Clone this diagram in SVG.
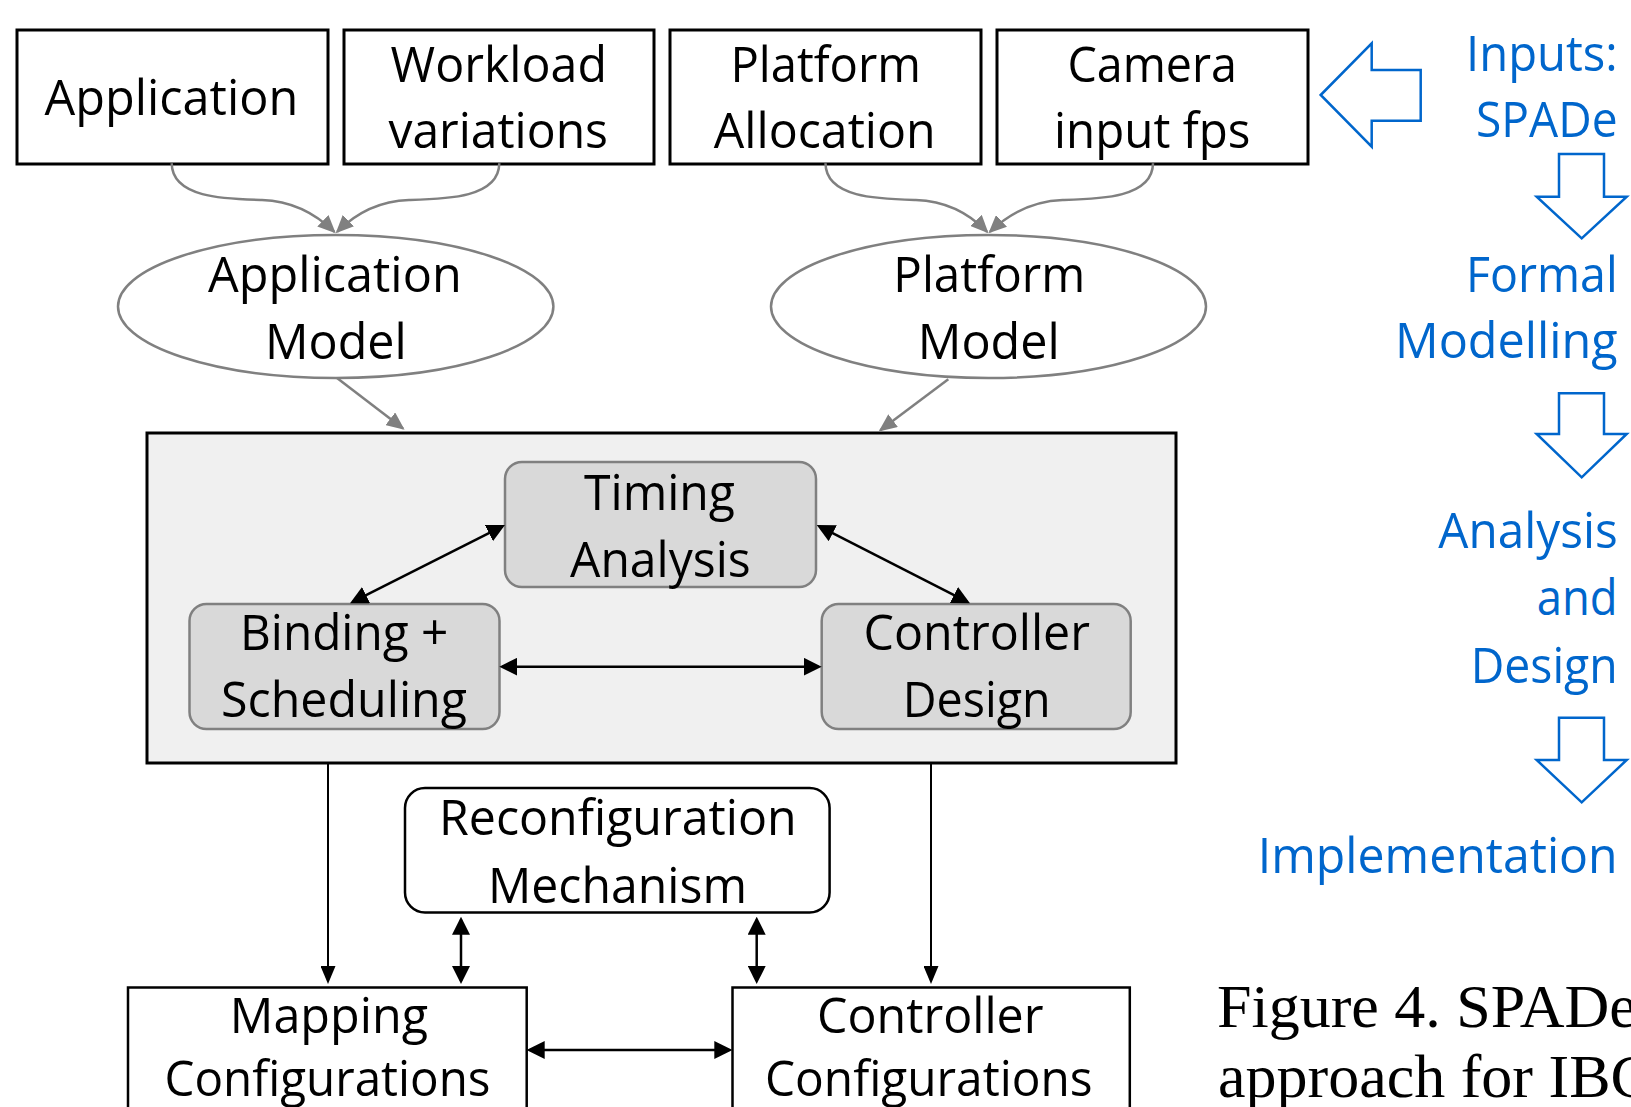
<svg xmlns="http://www.w3.org/2000/svg" width="1631" height="1107" viewBox="0 0 1631 1107">
<defs>
<style>
.box{fill:#fff;stroke:#000;stroke-width:3}
.ell{fill:#fff;stroke:#808080;stroke-width:2.5}
.inner{fill:#d9d9d9;stroke:#808080;stroke-width:2.5}
.outer{fill:#f0f0f0;stroke:#000;stroke-width:3}
.t{font-family:"Open Sans","Liberation Sans",sans-serif;font-size:50px;fill:#000}
.b{fill:#0066cc}
.barrow{fill:#fff;stroke:#0066cc;stroke-width:2.5;stroke-linejoin:miter}
.gray{fill:none;stroke:#808080;stroke-width:2.5}
.blk{fill:none;stroke:#000;stroke-width:2.5}
.thin{fill:none;stroke:#000;stroke-width:2}
.cap{font-family:"Liberation Serif","Times New Roman",serif;font-size:62px;fill:#000}
</style>
<marker id="ag" markerUnits="userSpaceOnUse" viewBox="0 0 18 16" markerWidth="18" markerHeight="16" refX="16" refY="8" orient="auto"><path d="M0,0 L18,8 L0,16 z" fill="#808080"/></marker>
<marker id="ab" markerUnits="userSpaceOnUse" viewBox="0 0 18 18" markerWidth="18" markerHeight="18" refX="15" refY="9" orient="auto-start-reverse"><path d="M0,0 L18,9 L0,18 z" fill="#000"/></marker>
<marker id="as" markerUnits="userSpaceOnUse" viewBox="0 0 18 15" markerWidth="18" markerHeight="15" refX="15" refY="7.5" orient="auto"><path d="M0,0 L18,7.5 L0,15 z" fill="#000"/></marker>
</defs>
<rect width="1631" height="1107" fill="#fff"/>

<g id="application">
<rect class="box" x="17" y="30" width="311" height="134"/>
<text class="t" x="44.6" y="115" textLength="253.6" lengthAdjust="spacingAndGlyphs">Application</text>
</g>
<g id="workload">
<rect class="box" x="344" y="30" width="310" height="134"/>
<text class="t" x="390.6" y="81.7" textLength="216.4" lengthAdjust="spacingAndGlyphs">Workload</text>
<text class="t" x="388.4" y="148.3" textLength="219.6" lengthAdjust="spacingAndGlyphs">variations</text>
</g>
<g id="platform-allocation">
<rect class="box" x="670" y="30" width="311" height="134"/>
<text class="t" x="730.4" y="81.7" textLength="190.6" lengthAdjust="spacingAndGlyphs">Platform</text>
<text class="t" x="713.8" y="148.3" textLength="221.9" lengthAdjust="spacingAndGlyphs">Allocation</text>
</g>
<g id="camera">
<rect class="box" x="997" y="30" width="311" height="134"/>
<text class="t" x="1067.4" y="81.7" textLength="169.6" lengthAdjust="spacingAndGlyphs">Camera</text>
<text class="t" x="1054" y="148.3" textLength="196.4" lengthAdjust="spacingAndGlyphs">input fps</text>
</g>

<g id="application-model">
<ellipse class="ell" cx="335.7" cy="306.5" rx="217.7" ry="71.5"/>
<text class="t" x="208" y="291.7" textLength="253.7" lengthAdjust="spacingAndGlyphs">Application</text>
<text class="t" x="265" y="358.5" textLength="141.7" lengthAdjust="spacingAndGlyphs">Model</text>
</g>
<g id="platform-model">
<ellipse class="ell" cx="988.5" cy="306.5" rx="217.5" ry="71.5"/>
<text class="t" x="893.3" y="291.7" textLength="191.9" lengthAdjust="spacingAndGlyphs">Platform</text>
<text class="t" x="917.8" y="358.8" textLength="142" lengthAdjust="spacingAndGlyphs">Model</text>
</g>

<g id="design-space">
<rect class="outer" x="147" y="433" width="1029" height="330"/>
</g>
<g id="timing-analysis">
<rect class="inner" x="505" y="462" width="311" height="125" rx="17"/>
<text class="t" x="584" y="510" textLength="151" lengthAdjust="spacingAndGlyphs">Timing</text>
<text class="t" x="570" y="576.7" textLength="180.7" lengthAdjust="spacingAndGlyphs">Analysis</text>
</g>
<g id="binding-scheduling">
<rect class="inner" x="189.5" y="604" width="310" height="125" rx="17"/>
<text class="t" x="240" y="650" textLength="208.3" lengthAdjust="spacingAndGlyphs">Binding +</text>
<text class="t" x="221" y="717" textLength="246" lengthAdjust="spacingAndGlyphs">Scheduling</text>
</g>
<g id="controller-design">
<rect class="inner" x="821.7" y="604" width="309" height="125" rx="17"/>
<text class="t" x="863.5" y="650" textLength="226.5" lengthAdjust="spacingAndGlyphs">Controller</text>
<text class="t" x="902.7" y="717" textLength="148" lengthAdjust="spacingAndGlyphs">Design</text>
</g>

<g id="reconfiguration">
<rect class="box" x="405" y="788" width="424.6" height="124.5" rx="20" style="stroke-width:2.5"/>
<text class="t" x="439" y="835" textLength="357.6" lengthAdjust="spacingAndGlyphs">Reconfiguration</text>
<text class="t" x="488" y="902.5" textLength="259" lengthAdjust="spacingAndGlyphs">Mechanism</text>
</g>
<g id="mapping-configurations">
<rect class="box" x="128" y="987.5" width="398.7" height="160" style="stroke-width:2.5"/>
<text class="t" x="229.8" y="1032.5" textLength="198.2" lengthAdjust="spacingAndGlyphs">Mapping</text>
<text class="t" x="164.5" y="1096" textLength="326" lengthAdjust="spacingAndGlyphs">Configurations</text>
</g>
<g id="controller-configurations">
<rect class="box" x="732.5" y="987.5" width="397.3" height="160" style="stroke-width:2.5"/>
<text class="t" x="817" y="1032.5" textLength="226.5" lengthAdjust="spacingAndGlyphs">Controller</text>
<text class="t" x="765" y="1096" textLength="327.6" lengthAdjust="spacingAndGlyphs">Configurations</text>
</g>

<g id="flow-steps">
<polygon class="barrow" points="1320.7,95 1371.7,43.3 1371.7,70 1420.7,70 1420.7,120.7 1371.7,120.7 1371.7,146.7"/>
<text class="t b" x="1617.7" y="70.7" text-anchor="end" textLength="151.7" lengthAdjust="spacingAndGlyphs">Inputs:</text>
<text class="t b" x="1617.7" y="137.3" text-anchor="end" textLength="141.7" lengthAdjust="spacingAndGlyphs">SPADe</text>
<polygon class="barrow" points="1559,154 1604,154 1604,196.7 1626.7,196.7 1581.7,238.3 1536.7,196.7 1559,196.7"/>
<text class="t b" x="1617.7" y="291.7" text-anchor="end" textLength="151.7" lengthAdjust="spacingAndGlyphs">Formal</text>
<text class="t b" x="1617.7" y="357.7" text-anchor="end" textLength="222.7" lengthAdjust="spacingAndGlyphs">Modelling</text>
<polygon class="barrow" points="1559,393.3 1604,393.3 1604,434 1626.7,434 1581.7,477.3 1536.7,434 1559,434"/>
<text class="t b" x="1617.7" y="547.7" text-anchor="end" textLength="179.4" lengthAdjust="spacingAndGlyphs">Analysis</text>
<text class="t b" x="1617.7" y="615" text-anchor="end" textLength="81" lengthAdjust="spacingAndGlyphs">and</text>
<text class="t b" x="1617.7" y="682.7" text-anchor="end" textLength="147" lengthAdjust="spacingAndGlyphs">Design</text>
<polygon class="barrow" points="1559,717.7 1604,717.7 1604,760 1626.7,760 1581.7,802.3 1536.7,760 1559,760"/>
<text class="t b" x="1617.7" y="872.7" text-anchor="end" textLength="360" lengthAdjust="spacingAndGlyphs">Implementation</text>
</g>

<g id="caption">
<text class="cap" x="1217" y="1027">Figure 4. SPADe</text>
<text class="cap" x="1218" y="1097">approach for IBC</text>
</g>

<g id="connectors">
<path class="gray" d="M171.7,163.3 C172,198 225,199 262,200 C292,201 316,214 334.3,231.9" marker-end="url(#ag)"/>
<path class="gray" d="M499.3,163.3 C499,198 446,199 409,200 C379,201 355,214 337.1,231.9" marker-end="url(#ag)"/>
<path class="gray" d="M825.5,163.3 C825.8,198 878.8,199 915.8,200 C945.8,201 969.8,214 987.1,231.9" marker-end="url(#ag)"/>
<path class="gray" d="M1153,163.3 C1152.7,198 1099.7,199 1062.7,200 C1032.7,201 1008.7,214 989.9,231.9" marker-end="url(#ag)"/>
<path class="gray" d="M337,378 L403,428.5" marker-end="url(#ag)"/>
<path class="gray" d="M948.3,379.3 L880.3,430.2" marker-end="url(#ag)"/>
<path class="blk" d="M352.7,601.9 L502.3,526.4" marker-start="url(#ab)" marker-end="url(#ab)"/>
<path class="blk" d="M819.4,526.4 L967.3,601.9" marker-start="url(#ab)" marker-end="url(#ab)"/>
<path class="blk" d="M502.3,666.7 L818.7,666.7" marker-start="url(#ab)" marker-end="url(#ab)"/>
<path class="thin" d="M328,763 L328,981" marker-end="url(#as)"/>
<path class="thin" d="M931,763 L931,981" marker-end="url(#as)"/>
<path class="blk" d="M461,919.7 L461,981" marker-start="url(#ab)" marker-end="url(#ab)"/>
<path class="blk" d="M756.7,919.7 L756.7,981" marker-start="url(#ab)" marker-end="url(#ab)"/>
<path class="blk" d="M529.7,1050 L729.3,1050" marker-start="url(#ab)" marker-end="url(#ab)"/>
</g>
</svg>
